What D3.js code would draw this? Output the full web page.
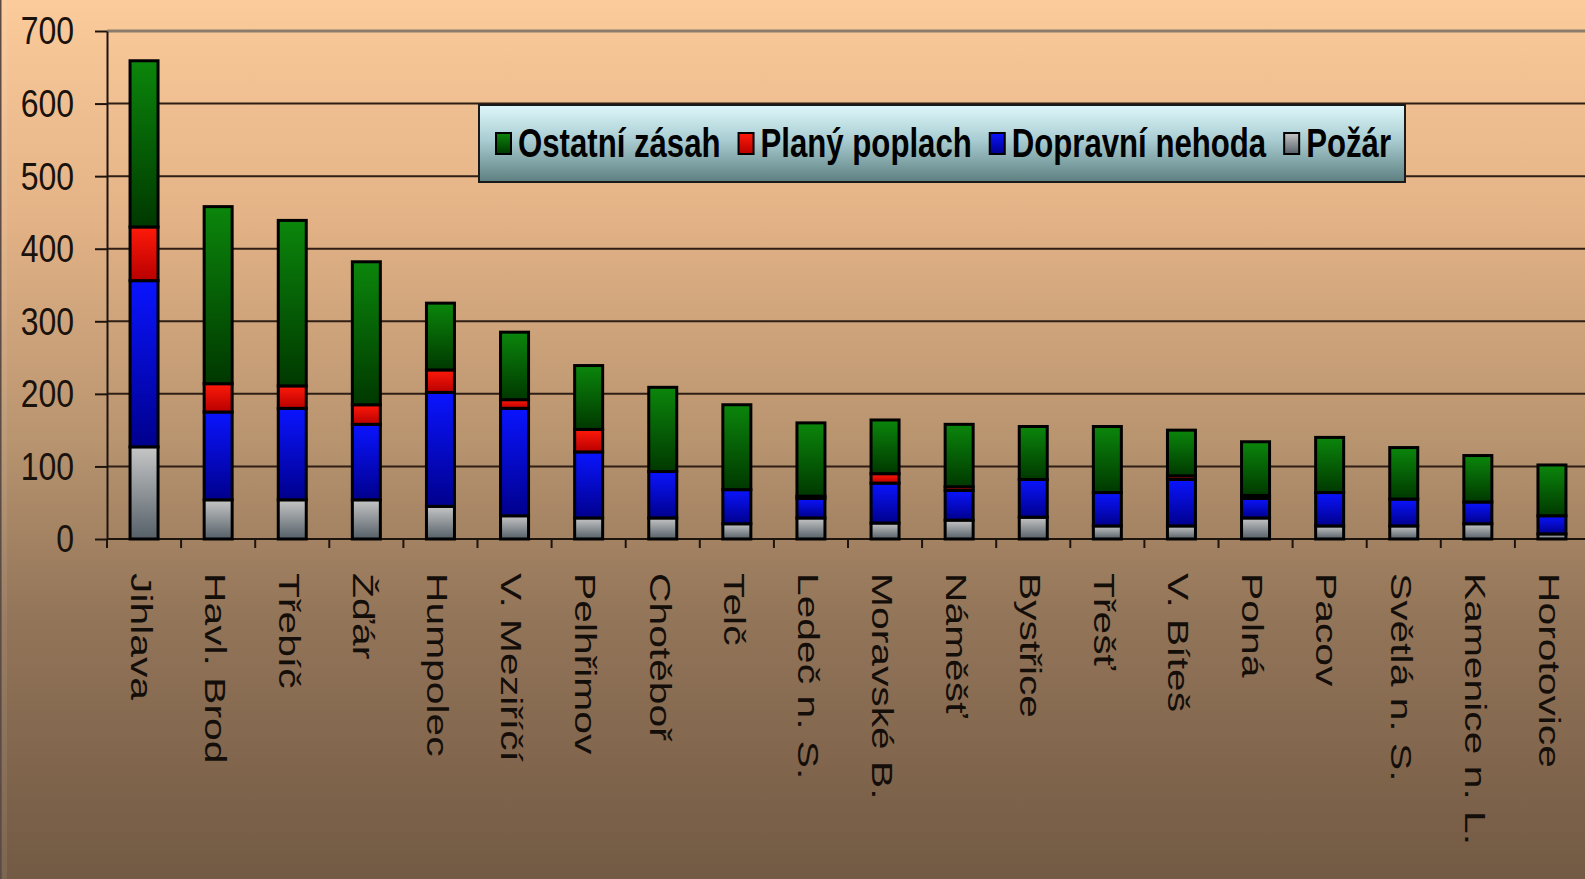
<!DOCTYPE html>
<html>
<head>
<meta charset="utf-8">
<script src="https://cdn.jsdelivr.net/npm/d3@7"></script>
<style>
  html, body { margin: 0; padding: 0; overflow: hidden; }
  svg { display: block; }
</style>
</head>
<body>
<svg id="chart" width="1585" height="879"></svg>
<script>
// Počty zásahů podle stanic, rozdělené podle typu události
const categories = ["Jihlava", "Havl. Brod", "Třebíč", "Žďár", "Humpolec", "V. Meziříčí", "Pelhřimov",
  "Chotěboř", "Telč", "Ledeč n. S.", "Moravské B.", "Náměšť", "Bystřice", "Třešť", "V. Bíteš",
  "Polná", "Pacov", "Světlá n. S.", "Kamenice n. L.", "Horotovice"];
const pozar     = [127, 54, 54, 54, 45, 32, 29, 29, 21, 29, 22, 26, 30, 18, 18, 29, 18, 18, 21, 7];
const dopravni  = [229, 121, 126, 104, 157, 148, 91, 64, 47, 27, 55, 41, 52, 46, 64, 27, 46, 37, 30, 25];
const plany     = [74, 39, 31, 27, 31, 12, 31, 0, 0, 3, 13, 5, 0, 0, 5, 4, 0, 0, 0, 0];
const ostatni   = [229, 244, 228, 197, 92, 93, 88, 116, 117, 101, 74, 86, 73, 91, 63, 74, 76, 71, 64, 70];
const seriesNames = ["Požár", "Dopravní nehoda", "Planý poplach", "Ostatní zásah"];
const legendOrder = ["Ostatní zásah", "Planý poplach", "Dopravní nehoda", "Požár"];
const yTicks = [0, 100, 200, 300, 400, 500, 600, 700];

const rows = categories.map((c, i) => ({
  kat: c,
  "Požár": pozar[i],
  "Dopravní nehoda": dopravni[i],
  "Planý poplach": plany[i],
  "Ostatní zásah": ostatni[i]
}));

const svg = d3.select("#chart");
const W = 1585, H = 879;
const plot = { left: 107, right: 1589, top: 31, bottom: 539 };

const defs = svg.append("defs");

// pozadí snímku
const bg = defs.append("linearGradient").attr("id", "bg").attr("x1", 0).attr("y1", 0).attr("x2", 0).attr("y2", 1);
[[0, "#fbcb9b"], [0.25, "#e3b286"], [0.5, "#b8946f"], [0.7, "#937559"], [1, "#735a44"]]
  .forEach(([o, c]) => bg.append("stop").attr("offset", o).attr("stop-color", c));
svg.append("rect").attr("width", W).attr("height", H).attr("fill", "url(#bg)");
svg.append("rect").attr("x", 2).attr("y", 0).attr("width", 5).attr("height", H).attr("fill", "#ffffff").attr("opacity", 0.07);
svg.append("line").attr("x1", 0.75).attr("x2", 0.75).attr("y1", 0).attr("y2", H)
  .attr("stroke", "#5a4c44").attr("stroke-width", 1.5);

// přechody výplní sloupců
const fills = {
  "Ostatní zásah":   ["#0b860b", "#003800"],
  "Planý poplach":   ["#ff1a0a", "#b80000"],
  "Dopravní nehoda": ["#0a14ff", "#00008c"],
  "Požár":           ["#c6c6c6", "#556068"]
};
const gradId = {};
seriesNames.forEach((s, i) => {
  const id = "g" + i;
  gradId[s] = id;
  const g = defs.append("linearGradient").attr("id", id).attr("x1", 0).attr("y1", 0).attr("x2", 0).attr("y2", 1);
  g.append("stop").attr("offset", 0).attr("stop-color", fills[s][0]);
  g.append("stop").attr("offset", 1).attr("stop-color", fills[s][1]);
});
const legendGrad = defs.append("linearGradient").attr("id", "lg").attr("x1", 0).attr("y1", 0).attr("x2", 0).attr("y2", 1);
[[0, "#dff8fb"], [0.45, "#a9cdd2"], [1, "#5d7f80"]]
  .forEach(([o, c]) => legendGrad.append("stop").attr("offset", o).attr("stop-color", c));

// měřítka
const x = d3.scaleBand().domain(categories).range([plot.left, plot.right]).padding(0);
const y = d3.scaleLinear().domain([0, 700]).range([plot.bottom, plot.top]);

// mřížka
svg.append("g").selectAll("line").data(yTicks.filter(t => t > 0)).join("line")
  .attr("x1", plot.left).attr("x2", W)
  .attr("y1", d => y(d)).attr("y2", d => y(d))
  .attr("stroke", d => d === 700 ? "#8c7c6c" : "#2e1e14")
  .attr("stroke-width", d => d === 700 ? 3 : 2);

// osa Y
const yAxis = svg.append("g").attr("transform", `translate(${plot.left},0)`)
  .call(d3.axisLeft(y).tickValues(yTicks).tickSize(12).tickPadding(21).tickSizeOuter(0));
yAxis.select(".domain").attr("stroke", "#1e140e").attr("stroke-width", 2);
yAxis.selectAll(".tick line").attr("stroke", "#1e140e").attr("stroke-width", 2);
yAxis.selectAll(".tick text")
  .attr("font-family", "'Liberation Sans', Arial, sans-serif")
  .attr("font-size", 32).attr("fill", "#1a120c")
  .attr("dy", "0.33em")
  .attr("transform", "scale(1,1.22)");

// osa X
svg.append("line").attr("x1", plot.left).attr("x2", W).attr("y1", y(0)).attr("y2", y(0))
  .attr("stroke", "#1e140e").attr("stroke-width", 2);
svg.append("g").selectAll("line").data(categories.concat(["_end"])).join("line")
  .attr("x1", d => d === "_end" ? plot.right : x(d))
  .attr("x2", d => d === "_end" ? plot.right : x(d))
  .attr("y1", y(0)).attr("y2", y(0) + 9)
  .attr("stroke", "#1e140e").attr("stroke-width", 2);

svg.append("g").selectAll("g").data(categories).join("g")
  .attr("transform", d => `translate(${x(d) + x.bandwidth() / 2},573) scale(1,1.36) rotate(90)`)
  .append("text")
  .attr("font-family", "'Liberation Sans', Arial, sans-serif")
  .attr("font-size", 30).attr("fill", "#140e0a")
  .attr("dy", "0.44em")
  .text(d => d);

// skládané sloupce
const stack = d3.stack().keys(seriesNames)(rows);
const barW = 28;
const layers = svg.append("g").selectAll("g").data(stack).join("g")
  .attr("fill", d => `url(#${gradId[d.key]})`);
layers.selectAll("rect").data(d => d.filter(p => p[1] - p[0] > 0)).join("rect")
  .attr("x", d => x(d.data.kat) + x.bandwidth() / 2 - barW / 2)
  .attr("width", barW)
  .attr("y", d => y(d[1]))
  .attr("height", d => y(d[0]) - y(d[1]))
  .attr("stroke", "#000").attr("stroke-width", 3);

// legenda (úzké tučné písmo)
const leg = svg.append("g");
leg.append("rect").attr("x", 479).attr("y", 105).attr("width", 926).attr("height", 77)
  .attr("fill", "url(#lg)").attr("stroke", "#1a1a1a").attr("stroke-width", 2);
const narrow = 0.82;
let lx = 496;
legendOrder.forEach(name => {
  leg.append("rect").attr("x", lx).attr("y", 133).attr("width", 15).attr("height", 21)
    .attr("fill", `url(#${gradId[name]})`).attr("stroke", "#000").attr("stroke-width", 2);
  const item = leg.append("g").attr("transform", `translate(${lx + 22},157) scale(${narrow},1.06)`);
  const t = item.append("text").attr("x", 0).attr("y", 0)
    .attr("font-family", "'Liberation Sans', Arial, sans-serif")
    .attr("font-weight", "bold").attr("font-size", 38).attr("fill", "#000")
    .text(name);
  lx += 22 + t.node().getComputedTextLength() * narrow + 18;
});
</script>
</body>
</html>
